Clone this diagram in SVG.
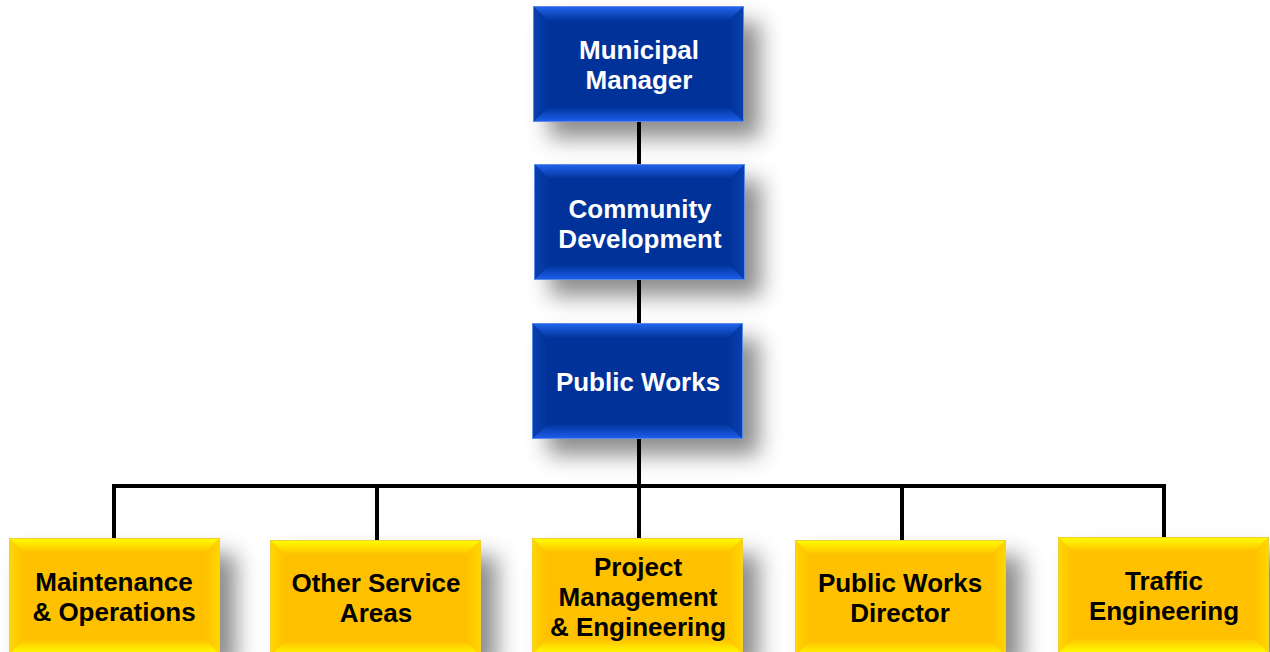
<svg xmlns="http://www.w3.org/2000/svg" xmlns:xlink="http://www.w3.org/1999/xlink" width="1270" height="652" viewBox="0 0 1270 652">
<style>
.conn{stroke:#000;stroke-width:4;fill:none}
.tw{font-family:"Liberation Sans",Arial,sans-serif;font-weight:bold;font-size:26px;fill:#fff;text-anchor:middle}
.tb{font-family:"Liberation Sans",Arial,sans-serif;font-weight:bold;font-size:26px;fill:#000;text-anchor:middle}
</style>
<defs>
<filter id="sh" x="-30%" y="-30%" width="170%" height="180%">
<feDropShadow dx="16" dy="16" stdDeviation="11" flood-color="#000" flood-opacity="0.45"/>
</filter>
<linearGradient id="bT" x1="0" y1="0" x2="0" y2="1"><stop offset="0" stop-color="#2466f0"/><stop offset="1" stop-color="#00339a"/></linearGradient>
<linearGradient id="bB" x1="0" y1="1" x2="0" y2="0"><stop offset="0" stop-color="#1e60ee"/><stop offset="1" stop-color="#00339a"/></linearGradient>
<linearGradient id="bL" x1="0" y1="0" x2="1" y2="0"><stop offset="0" stop-color="#0a40b0"/><stop offset="1" stop-color="#00339a"/></linearGradient>
<linearGradient id="bR" x1="1" y1="0" x2="0" y2="0"><stop offset="0" stop-color="#0a40b0"/><stop offset="1" stop-color="#00339a"/></linearGradient>
<linearGradient id="yT" x1="0" y1="0" x2="0" y2="1"><stop offset="0" stop-color="#ffff00"/><stop offset="1" stop-color="#ffc000"/></linearGradient>
<linearGradient id="yB" x1="0" y1="1" x2="0" y2="0"><stop offset="0" stop-color="#ffff00"/><stop offset="1" stop-color="#ffc000"/></linearGradient>
<linearGradient id="yL" x1="0" y1="0" x2="1" y2="0"><stop offset="0" stop-color="#ffd800"/><stop offset="1" stop-color="#ffc000"/></linearGradient>
<linearGradient id="yR" x1="1" y1="0" x2="0" y2="0"><stop offset="0" stop-color="#ffd800"/><stop offset="1" stop-color="#ffc000"/></linearGradient>
<symbol id="blue" viewBox="0 0 211 116" width="211" height="116" overflow="visible">
<rect x="0" y="0" width="211" height="116" fill="#00339a" filter="url(#sh)"/>
<polygon points="0,0 211,0 196,15 15,15" fill="url(#bT)"/>
<polygon points="0,116 211,116 196,101 15,101" fill="url(#bB)"/>
<polygon points="0,0 15,15 15,101 0,116" fill="url(#bL)"/>
<polygon points="211,0 196,15 196,101 211,116" fill="url(#bR)"/>
<rect x="0.5" y="0.5" width="210" height="115" fill="none" stroke="#5a8ae8" stroke-width="1"/>
</symbol>
<symbol id="yellow" viewBox="0 0 211 116" width="211" height="116" overflow="visible">
<rect x="0" y="0" width="211" height="116" fill="#ffc000" filter="url(#sh)"/>
<polygon points="0,0 211,0 196,15 15,15" fill="url(#yT)"/>
<polygon points="0,116 211,116 196,101 15,101" fill="url(#yB)"/>
<polygon points="0,0 15,15 15,101 0,116" fill="url(#yL)"/>
<polygon points="211,0 196,15 196,101 211,116" fill="url(#yR)"/>
<rect x="0.5" y="0.5" width="210" height="115" fill="none" stroke="#f0d030" stroke-width="1"/>
</symbol>
</defs>
<rect width="1270" height="652" fill="#fff"/>
<g id="connectors">
<line class="conn" x1="639" y1="122" x2="639" y2="164"/>
<line class="conn" x1="639" y1="280" x2="639" y2="323"/>
<line class="conn" x1="639" y1="438" x2="639" y2="538"/>
<polyline class="conn" points="114,538 114,486 1164,486 1164,538"/>
<line class="conn" x1="377" y1="486" x2="377" y2="540"/>
<line class="conn" x1="902" y1="486" x2="902" y2="540"/>
</g>
<g id="municipal-manager">
<use xlink:href="#blue" x="533" y="6"/>
<text class="tw" x="639" y="59">Municipal</text>
<text class="tw" x="639" y="89">Manager</text>
</g>
<g id="community-development">
<use xlink:href="#blue" x="534" y="164"/>
<text class="tw" x="640" y="218">Community</text>
<text class="tw" x="640" y="248">Development</text>
</g>
<g id="public-works">
<use xlink:href="#blue" x="532" y="323"/>
<text class="tw" x="638" y="391">Public Works</text>
</g>
<g id="maintenance-operations">
<use xlink:href="#yellow" x="9" y="538"/>
<text class="tb" x="114" y="591">Maintenance</text>
<text class="tb" x="114" y="621">&amp; Operations</text>
</g>
<g id="other-service-areas">
<use xlink:href="#yellow" x="270" y="540"/>
<text class="tb" x="376" y="592">Other Service</text>
<text class="tb" x="376" y="622">Areas</text>
</g>
<g id="project-management">
<use xlink:href="#yellow" x="532" y="538"/>
<text class="tb" x="638" y="576">Project</text>
<text class="tb" x="638" y="606">Management</text>
<text class="tb" x="638" y="636">&amp; Engineering</text>
</g>
<g id="public-works-director">
<use xlink:href="#yellow" x="795" y="540"/>
<text class="tb" x="900" y="592">Public Works</text>
<text class="tb" x="900" y="622">Director</text>
</g>
<g id="traffic-engineering">
<use xlink:href="#yellow" x="1058" y="537"/>
<text class="tb" x="1164" y="590">Traffic</text>
<text class="tb" x="1164" y="620">Engineering</text>
</g>
</svg>
